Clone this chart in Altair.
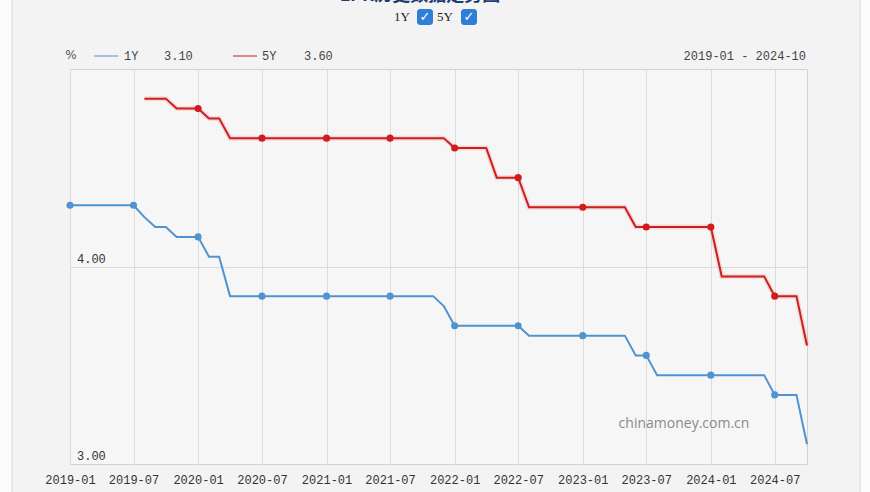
import altair as alt
import pandas as pd

# ---------------- data ----------------
months = pd.date_range("2019-01-01", "2024-10-01", freq="MS").strftime("%Y-%m-%dT00:00:00").tolist()

one_y = [
    4.31, 4.31, 4.31, 4.31, 4.31, 4.31, 4.31, 4.25, 4.20, 4.20, 4.15, 4.15,
    4.15, 4.05, 4.05, 3.85, 3.85, 3.85, 3.85, 3.85, 3.85, 3.85, 3.85, 3.85,
    3.85, 3.85, 3.85, 3.85, 3.85, 3.85, 3.85, 3.85, 3.85, 3.85, 3.85, 3.80,
    3.70, 3.70, 3.70, 3.70, 3.70, 3.70, 3.70, 3.65, 3.65, 3.65, 3.65, 3.65,
    3.65, 3.65, 3.65, 3.65, 3.65, 3.55, 3.55, 3.45, 3.45, 3.45, 3.45, 3.45,
    3.45, 3.45, 3.45, 3.45, 3.45, 3.45, 3.35, 3.35, 3.35, 3.10,
]
five_y = [
    None, None, None, None, None, None, None, 4.85, 4.85, 4.85, 4.80, 4.80,
    4.80, 4.75, 4.75, 4.65, 4.65, 4.65, 4.65, 4.65, 4.65, 4.65, 4.65, 4.65,
    4.65, 4.65, 4.65, 4.65, 4.65, 4.65, 4.65, 4.65, 4.65, 4.65, 4.65, 4.65,
    4.60, 4.60, 4.60, 4.60, 4.45, 4.45, 4.45, 4.30, 4.30, 4.30, 4.30, 4.30,
    4.30, 4.30, 4.30, 4.30, 4.30, 4.20, 4.20, 4.20, 4.20, 4.20, 4.20, 4.20,
    4.20, 3.95, 3.95, 3.95, 3.95, 3.95, 3.85, 3.85, 3.85, 3.60,
]
series_names = ["1Y", "5Y"]
y_label_values = [3.0, 4.0]
x_tick_years = [2019, 2019, 2020, 2020, 2021, 2021, 2022, 2022, 2023, 2023, 2024, 2024]
x_tick_months = [1, 7, 1, 7, 1, 7, 1, 7, 1, 7, 1, 7]

BLUE = "#4f93cf"
RED = "#d01c1c"
MONO = "Liberation Mono"

rows = []
for d, a, b in zip(months, one_y, five_y):
    rows.append({"date": d, "series": "1Y", "value": a})
    if b is not None:
        rows.append({"date": d, "series": "5Y", "value": b})
df = pd.DataFrame(rows)

tick_vals = [alt.DateTime(year=y, month=m, date=1) for y, m in zip(x_tick_years, x_tick_months)]

X = alt.X(
    "date:T",
    scale=alt.Scale(domain=[alt.DateTime(year=2019, month=1, date=1),
                            alt.DateTime(year=2024, month=10, date=1)]),
    axis=alt.Axis(values=tick_vals, format="%Y-%m", title=None, grid=True,
                  gridColor="#dcdcdc", ticks=False, tickSize=0, domain=False,
                  labelFont=MONO, labelFontSize=12, labelColor="#333333",
                  labelPadding=10, labelFlush=False, labelOverlap=False),
)
Y = alt.Y(
    "value:Q",
    scale=alt.Scale(domain=[3, 5], nice=False, zero=False),
    axis=alt.Axis(values=[4], grid=True, gridColor="#dcdcdc", labels=False,
                  ticks=False, domain=False, title=None),
)
COLOR = alt.Color("series:N", scale=alt.Scale(domain=series_names, range=[BLUE, RED]), legend=None)

base = alt.Chart(df)

glow = base.transform_filter("datum.series == '5Y'").mark_line(
    color=RED, strokeWidth=5, opacity=0.12, interpolate="linear"
).encode(x=X, y=Y)

lines = base.mark_line(strokeWidth=2).encode(x=X, y=Y, color=COLOR, detail="series:N")

points = base.transform_filter(
    "month(datum.date) == 0 || month(datum.date) == 6"
).mark_point(filled=True, size=50, opacity=1).encode(x=X, y=Y, color=COLOR)

ylab = alt.Chart(pd.DataFrame({"value": y_label_values})).mark_text(
    align="left", baseline="bottom", dy=-1, font=MONO, fontSize=12, color="#333333"
).encode(x=alt.value(7), y=Y, text=alt.Text("value:Q", format=".2f"))

dummy = alt.Chart(pd.DataFrame({"a": [0]}))


def txt(s, x, y, **kw):
    return dummy.mark_text(text=s, **kw).encode(x=alt.value(x), y=alt.value(y))


def box(x1, x2, y1, y2, **kw):
    return dummy.mark_rect(**kw).encode(x=alt.value(x1), x2=alt.value(x2),
                                       y=alt.value(y1), y2=alt.value(y2))


def seg(x1, x2, y, color, **kw):
    return dummy.mark_rule(color=color, **kw).encode(x=alt.value(x1), x2=alt.value(x2), y=alt.value(y))


# outer light strips & panel borders
strips = [
    box(-70, -58, -69, 423, color="#fbfbfb"),
    box(790, 800, -69, 423, color="#fbfbfb"),
    dummy.mark_rule(color="#d8d8d8").encode(x=alt.value(-58), y=alt.value(-69), y2=alt.value(423)),
    dummy.mark_rule(color="#d8d8d8").encode(x=alt.value(790), y=alt.value(-69), y2=alt.value(423)),
]

# title is cropped at the top edge in the reference
title = txt("LPR历史数据走势图", 350, -64, align="center", baseline="bottom",
            font="Noto Sans CJK SC", fontSize=18, fontWeight="bold", color="#1e3d70")

checks = [
    txt("1Y", 332, -52, align="center", baseline="middle", font="Liberation Serif", fontSize=13, color="#222222"),
    box(347, 363, -60, -44, color="#2f7fd8", cornerRadius=3),
    txt("✓", 355, -52, align="center", baseline="middle", font="DejaVu Sans", fontSize=13,
        fontWeight="bold", color="white"),
    txt("5Y", 375, -52, align="center", baseline="middle", font="Liberation Serif", fontSize=13, color="#222222"),
    box(391, 407, -60, -44, color="#2f7fd8", cornerRadius=3),
    txt("✓", 399, -52, align="center", baseline="middle", font="DejaVu Sans", fontSize=13,
        fontWeight="bold", color="white"),
]

legend = [
    txt("%", 1, -14, align="center", baseline="middle", font="DejaVu Sans", fontSize=12, color="#555555"),
    seg(24, 48, -13, BLUE, strokeWidth=2, opacity=0.5),
    txt(series_names[0], 54, -13, align="left", baseline="middle", font=MONO, fontSize=12, color="#444444"),
    txt(f"{one_y[-1]:.2f}", 94, -13, align="left", baseline="middle", font=MONO, fontSize=12, color="#444444"),
    seg(163, 187, -13, RED, strokeWidth=2, opacity=0.5),
    txt(series_names[1], 192, -13, align="left", baseline="middle", font=MONO, fontSize=12, color="#444444"),
    txt(f"{five_y[-1]:.2f}", 234, -13, align="left", baseline="middle", font=MONO, fontSize=12, color="#444444"),
    txt("2019-01 - 2024-10", 736, -13, align="right", baseline="middle", font=MONO, fontSize=12,
        color="#444444"),
]

watermark = txt("chinamoney.com.cn", 614, 355, align="center", baseline="middle",
                font="Open Sans", fontSize=14, color="#8a8a8a")

chart = alt.layer(
    *strips, title, *checks, *legend, watermark, ylab, glow, lines, points
).properties(
    width=737, height=395,
    padding={"left": 70, "top": 69, "right": 63, "bottom": 28},
    autosize=alt.AutoSizeParams(type="none"),
    background="#f3f3f3",
).configure_view(
    fill="#f6f6f6", stroke="#d2d2d2", strokeWidth=1
)

chart.save("out.html", embed_options={"renderer": "svg", "actions": False})
